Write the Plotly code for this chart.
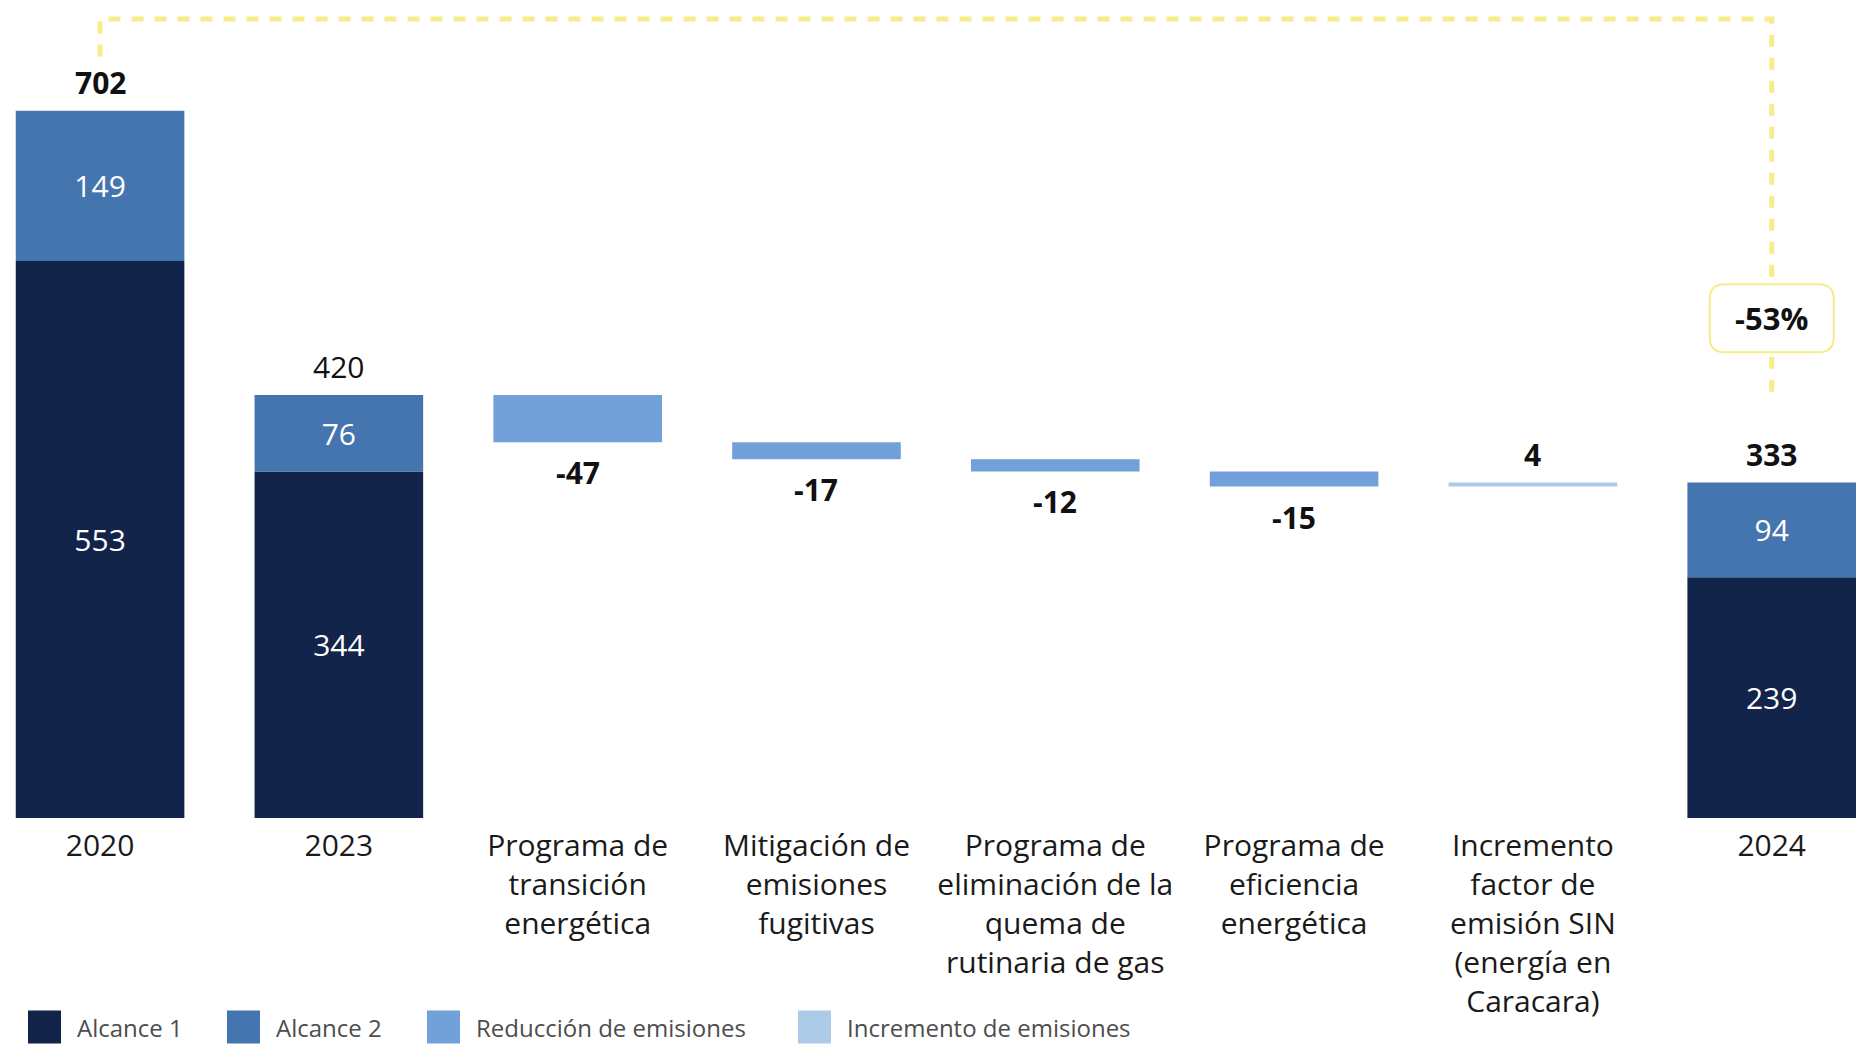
"""Emisiones 2020-2024: cascada de reducciones (Alcance 1 y 2)"""

import plotly.graph_objects as go

# data
categories = [
    "2020",
    "2023",
    "Programa de<br>transición<br>energética",
    "Mitigación de<br>emisiones<br>fugitivas",
    "Programa de<br>eliminación de la<br>quema de<br>rutinaria de gas",
    "Programa de<br>eficiencia<br>energética",
    "Incremento<br>factor de<br>emisión SIN<br>(energía en<br>Caracara)",
    "2024",
]
years = ["2020", "2023", "2024"]
alcance1 = [553, 344, 239]
alcance2 = [149, 76, 94]
change_cats = categories[2:7]
changes = [-47, -17, -12, -15, 4]
variation_text = "-53%"

legend_names = ["Alcance 1", "Alcance 2", "Reducción de emisiones", "Incremento de emisiones"]

NAVY = "#12244A"
BLUE = "#4575AE"
REDUC = "#71A1D8"
INCR = "#ABCBE9"
YELLOW = "#F6EC8A"
FONT = "Open Sans"

W, H = 1856, 1046
BOTTOM = 228
PLOT_H = H - BOTTOM
Y_MAX = 812

totals = [a + b for a, b in zip(alcance1, alcance2)]
year_idx = [categories.index(y) for y in years]

# running totals for the floating bars
red_x, red_base, red_len = [], [], []
inc_x, inc_base, inc_len = [], [], []
level = totals[1]
for cat, ch in zip(change_cats, changes):
    if ch < 0:
        red_x.append(cat)
        red_base.append(level + ch)
        red_len.append(-ch)
    else:
        inc_x.append(cat)
        inc_base.append(level)
        inc_len.append(ch)
    level += ch

fig = go.Figure()

fig.add_trace(go.Bar(
    x=years, y=alcance1, marker_color=NAVY, name=legend_names[0],
    text=[str(v) for v in alcance1], textposition="inside",
    insidetextanchor="middle", textfont=dict(color="white", size=30, family=FONT),
))
fig.add_trace(go.Bar(
    x=years, y=alcance2, base=alcance1, marker_color=BLUE, name=legend_names[1],
    text=[str(v) for v in alcance2], textposition="inside",
    insidetextanchor="middle", textfont=dict(color="white", size=30, family=FONT),
))
fig.add_trace(go.Bar(
    x=red_x, y=red_len, base=red_base, marker_color=REDUC, name=legend_names[2],
))
fig.add_trace(go.Bar(
    x=inc_x, y=inc_len, base=inc_base, marker_color=INCR, name=legend_names[3],
))
fig.update_traces(marker_line_width=0, showlegend=False, hoverinfo="skip")

# dashed bracket from 2020 to 2024
top = max(totals) * 1.13
fig.add_trace(go.Scatter(
    x=[years[0], years[0], years[-1], years[-1]],
    y=[totals[0] + 54, top, top, totals[-1] + 86],
    mode="lines", line=dict(color=YELLOW, width=5, dash="12px,11px"),
    showlegend=False, hoverinfo="skip",
))

annotations = []
# totals
for i, (idx, tot) in enumerate(zip(year_idx, totals)):
    txt = f"<b>{tot}</b>" if i != 1 else str(tot)
    annotations.append(dict(x=idx, y=tot, text=txt, showarrow=False, yanchor="bottom",
                            yshift=6, font=dict(size=30, color="#111111", family=FONT)))
# changes
level = totals[1]
for cat, ch in zip(change_cats, changes):
    idx = categories.index(cat)
    if ch < 0:
        annotations.append(dict(x=idx, y=level + ch, text=f"<b>{ch}</b>", showarrow=False,
                                yanchor="top", yshift=-8,
                                font=dict(size=30, color="#111111", family=FONT)))
    else:
        annotations.append(dict(x=idx, y=level + ch, text=f"<b>{ch}</b>", showarrow=False,
                                yanchor="bottom", yshift=6,
                                font=dict(size=30, color="#111111", family=FONT)))
    level += ch

# percentage badge
badge_y = (totals[-1] + 86 + top) / 2 - 110
shapes = [dict(
    type="path", xref="x", yref="y", xsizemode="pixel", ysizemode="pixel",
    xanchor=year_idx[-1], yanchor=badge_y,
    path="M -47,-34 L 47,-34 Q 62,-34 62,-19 L 62,19 Q 62,34 47,34 "
         "L -47,34 Q -62,34 -62,19 L -62,-19 Q -62,-34 -47,-34 Z",
    fillcolor="white", line=dict(color=YELLOW, width=2), layer="above",
)]
annotations.append(dict(x=year_idx[-1], y=badge_y, text=f"<b>{variation_text}</b>",
                        showarrow=False, font=dict(size=31, color="#111111", family=FONT)))

# manual legend
leg_y = (PLOT_H - 1027) / PLOT_H
sw = 33 / PLOT_H
for name, color, x0 in zip(legend_names, [NAVY, BLUE, REDUC, INCR], [28, 227, 427, 798]):
    shapes.append(dict(type="rect", xref="paper", yref="paper",
                       x0=x0 / W, x1=(x0 + 33) / W, y0=leg_y - sw / 2, y1=leg_y + sw / 2,
                       fillcolor=color, line_width=0))
    annotations.append(dict(xref="paper", yref="paper", x=(x0 + 47) / W, y=leg_y,
                            text=name, showarrow=False, xanchor="left", yanchor="middle",
                            font=dict(size=24, color="#4D4D4D", family=FONT)))

fig.update_layout(
    width=W, height=H, autosize=False,
    margin=dict(l=0, r=0, t=0, b=BOTTOM),
    plot_bgcolor="white", paper_bgcolor="white",
    barmode="overlay", bargap=0.294,
    font=dict(family=FONT, color="#111111"),
    xaxis=dict(type="category", categoryorder="array", categoryarray=categories,
               range=[-0.419, 7.353], showgrid=False, showline=False, ticks="",
               ticklabelstandoff=7,
               tickfont=dict(size=30, color="#1A1A1A"), fixedrange=True),
    yaxis=dict(range=[0, Y_MAX], visible=False, fixedrange=True),
    shapes=shapes,
    annotations=annotations,
    showlegend=False,
)

fig.write_html("out.html", config={"displayModeBar": False},
               post_script="document.body.style.margin='0';")
